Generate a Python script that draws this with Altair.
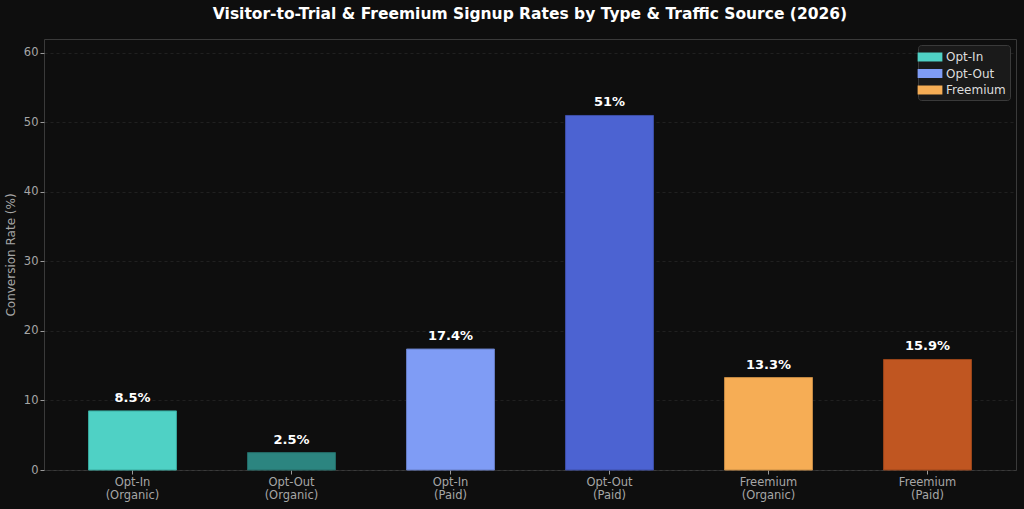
import altair as alt
import pandas as pd

# Conversion rates by signup type and traffic source
categories = ["Opt-In|(Organic)", "Opt-Out|(Organic)", "Opt-In|(Paid)",
              "Opt-Out|(Paid)", "Freemium|(Organic)", "Freemium|(Paid)"]
rates = [8.5, 2.5, 17.4, 51, 13.3, 15.9]
value_labels = ["8.5%", "2.5%", "17.4%", "51%", "13.3%", "15.9%"]
fills = ["#4fd1c5", "#2c8580", "#7f9cf5", "#4c63d2", "#f6ad55", "#c05621"]
edges = ["#38a89d", "#236b67", "#667dc4", "#3d4fa8", "#c58a44", "#9a451a"]

legend_types = ["Opt-In", "Opt-Out", "Freemium"]
legend_colors = ["#4fd1c5", "#7f9cf5", "#f6ad55"]

df = pd.DataFrame({
    "cat": categories,
    "rate": rates,
    "label": value_labels,
    "fill": fills,
    "edge": edges,
})
legend_df = pd.DataFrame({"type": legend_types})

x_enc = alt.X(
    "cat:N",
    sort=categories,
    title=None,
    scale=alt.Scale(paddingInner=0.447, paddingOuter=0.28),
    axis=alt.Axis(
        labelExpr="split(datum.label, '|')",
        labelAngle=0,
        labelColor="#a6a6a6",
        labelFontSize=11.5,
        labelLineHeight=13,
        labelPadding=2,
        tickColor="#9a9a9a",
        tickSize=4,
        domain=False,
        grid=False,
    ),
)
y_scale = alt.Scale(domain=[0, 62], nice=False)
y_axis = alt.Axis(
    values=[0, 10, 20, 30, 40, 50, 60],
    title="Conversion Rate (%)",
    titleColor="#a6a6a6",
    titleFontSize=12,
    titleFontWeight="normal",
    titlePadding=6,
    labelColor="#a6a6a6",
    labelFontSize=11.5,
    tickColor="#9a9a9a",
    tickSize=4,
    domain=False,
    grid=True,
    gridColor="#262626",
    gridDash=[3, 3],
    gridWidth=0.8,
)

bars = alt.Chart(df).mark_bar(strokeWidth=1).encode(
    x=x_enc,
    y=alt.Y("rate:Q", scale=y_scale, axis=y_axis),
    fill=alt.Fill("fill:N", scale=None),
    stroke=alt.Stroke("edge:N", scale=None),
)

texts = alt.Chart(df).mark_text(
    dy=-6, baseline="bottom", fontSize=13, fontWeight="bold",
    color="#ffffff", font="DejaVu Sans",
).encode(
    x=alt.X("cat:N", sort=categories),
    y=alt.Y("rate:Q", scale=y_scale),
    text="label:N",
)

# Invisible layer that only carries the type legend
legend_layer = alt.Chart(legend_df).mark_point(opacity=0, filled=True).encode(
    color=alt.Color(
        "type:N",
        scale=alt.Scale(domain=legend_types, range=legend_colors),
        legend=alt.Legend(
            title=None,
            orient="top-right",
            offset=6,
            symbolType="M-1.6,-0.58H1.6V0.58H-1.6Z",
            symbolSize=240,
            symbolOpacity=1,
            symbolStrokeWidth=0,
            labelColor="#dddddd",
            labelFontSize=12,
            labelOffset=8,
            rowPadding=2.5,
            padding=4,
            fillColor="#1a1a1a",
            strokeColor="#3a3a3a",
            cornerRadius=3,
        ),
    ),
)

chart = alt.layer(bars, texts, legend_layer).properties(
    width=972,
    height=431,
    background="#0e0e0e",
    padding={"left": 44, "top": 39, "right": 8, "bottom": 39},
    autosize=alt.AutoSizeParams(type="none"),
    title=alt.TitleParams(
        "Visitor-to-Trial & Freemium Signup Rates by Type & Traffic Source (2026)",
        color="#ffffff",
        fontSize=15.5,
        fontWeight="bold",
        font="DejaVu Sans",
        offset=17,
        anchor="middle",
    ),
).configure(
    font="DejaVu Sans",
).configure_view(
    stroke="#3a3a3a",
    strokeWidth=1,
    fill="#0e0e0e",
)

chart.save("out.html", embed_options={"renderer": "svg", "actions": False})
